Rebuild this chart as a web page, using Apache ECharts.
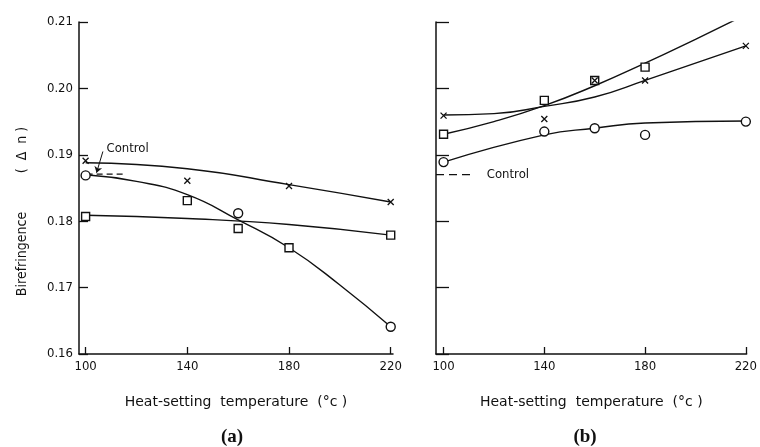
<!DOCTYPE html>
<html>
<head>
<meta charset="utf-8">
<script src="https://cdn.jsdelivr.net/npm/echarts@6/dist/echarts.min.js"></script>
<style>
  html, body { margin: 0; padding: 0; background: #fff; }
  #chart { width: 760px; height: 447px; }
</style>
</head>
<body>
<div id="chart"></div>
<script>
const ticksX = [100, 140, 180, 220]
const ticksY = [0.16, 0.17, 0.18, 0.19, 0.2, 0.21]

// panel (a) measured points
const crossXA = [100, 140, 180, 220]
const crossYA = [0.1891, 0.1861, 0.1853, 0.1829]
const circleXA = [100, 160, 220]
const circleYA = [0.1869, 0.1812, 0.1641]
const squareXA = [100, 140, 160, 180, 220]
const squareYA = [0.1807, 0.1831, 0.1789, 0.1760, 0.1779]

// panel (a) drawn curves
const crossFitXA = [100, 140, 180, 220]
const crossFitYA = [0.1888, 0.1879, 0.1855, 0.1829]
const circleFitXA = [100, 120, 140, 160, 180, 200, 220]
const circleFitYA = [0.1870, 0.1860, 0.1840, 0.1802, 0.1760, 0.1704, 0.1641]
const squareFitXA = [100, 140, 180, 220]
const squareFitYA = [0.1809, 0.1804, 0.1795, 0.1779]

// panel (b) measured points
const crossXB = [100, 140, 160, 180, 220]
const crossYB = [0.1959, 0.1954, 0.2012, 0.2012, 0.2064]
const circleXB = [100, 140, 160, 180, 220]
const circleYB = [0.1889, 0.1935, 0.1940, 0.1930, 0.1950]
const squareXB = [100, 140, 160, 180, 220]
const squareYB = [0.1931, 0.1982, 0.2012, 0.2032, 0.2111]

// panel (b) drawn curves
const crossFitXB = [100, 120, 140, 160, 180, 220]
const crossFitYB = [0.1960, 0.1962, 0.1973, 0.1987, 0.2012, 0.2064]
const circleFitXB = [100, 140, 160, 180, 220]
const circleFitYB = [0.1889, 0.1930, 0.1940, 0.1948, 0.1951]
const squareFitXB = [100, 120, 140, 160, 180, 200, 220]
const squareFitYB = [0.1931, 0.1950, 0.1974, 0.2004, 0.2038, 0.2074, 0.2111]

// control level and its annotation
const controlA = 0.1871
const controlXA = [100.4, 115.8]
const controlB = 0.1870
const controlXB = [97, 112.4]
const arrowXA = [106.8, 104.3]
const arrowYA = [0.1905, 0.1873]
const controlLabelA = [108.2, 0.1910]

const FONT = '"DejaVu Sans Condensed", "DejaVu Sans", sans-serif'
const WIDE = '"DejaVu Sans", sans-serif'
const SERIF = '"Liberation Serif", "DejaVu Serif", serif'
const INK = '#111'
const CROSS = 'path://M0,0L10,10M10,0L0,10'

const pairs = (xs, ys) => xs.map((x, i) => [x, ys[i]])

const chart = echarts.init(document.getElementById('chart'), null, { renderer: 'canvas' })

const xAxisFor = (gridIndex, min, max) => ({
  type: 'value',
  gridIndex,
  min,
  max,
  name: 'Heat-setting  temperature  (\u00b0c )',
  nameLocation: 'middle',
  nameGap: 41,
  nameTextStyle: { fontFamily: WIDE, fontSize: 14, color: INK },
  axisLine: { lineStyle: { color: INK, width: 1.5 } },
  axisTick: { inside: true, length: 7, customValues: ticksX, lineStyle: { color: INK, width: 1.3 } },
  axisLabel: { customValues: ticksX, margin: 6, fontFamily: FONT, fontSize: 13, color: INK },
  splitLine: { show: false },
})

const yAxisFor = (gridIndex, showLabels, tickLen) => ({
  type: 'value',
  gridIndex,
  min: 0.16,
  max: 0.21,
  axisLine: { show: true, lineStyle: { color: INK, width: 1.5 } },
  axisTick: { inside: true, length: tickLen, customValues: ticksY, lineStyle: { color: INK, width: 1.3 } },
  axisLabel: {
    show: showLabels,
    customValues: ticksY,
    margin: 6,
    fontFamily: FONT,
    fontSize: 13,
    color: INK,
    formatter: (v) => v.toFixed(2),
  },
  splitLine: { show: false },
})

const fit = (xi, xs, ys) => ({
  type: 'line',
  xAxisIndex: xi,
  yAxisIndex: xi,
  data: pairs(xs, ys),
  smooth: true,
  symbol: 'none',
  lineStyle: { color: INK, width: 1.4 },
  silent: true,
  z: 2,
})

const marks = (xi, xs, ys, symbol, size) => ({
  type: 'scatter',
  xAxisIndex: xi,
  yAxisIndex: xi,
  data: pairs(xs, ys),
  symbol,
  symbolSize: size,
  itemStyle: { color: '#fff', borderColor: INK, borderWidth: 1.4, opacity: 1 },
  z: 3,
})

const crossMarks = (xi, xs, ys) => ({
  type: 'scatter',
  xAxisIndex: xi,
  yAxisIndex: xi,
  data: pairs(xs, ys),
  symbol: CROSS,
  symbolSize: 6,
  itemStyle: { color: 'none', borderColor: INK, borderWidth: 1.3, opacity: 1 },
  z: 4,
})

const textEl = (x, y, text, font, size, extra) => ({
  type: 'text',
  x,
  y,
  ...extra,
  style: {
    text,
    fontFamily: font,
    fontSize: size,
    fill: INK,
    align: 'center',
    verticalAlign: 'middle',
    ...(extra && extra.style),
  },
})

const option = {
  animation: false,
  backgroundColor: '#fff',
  grid: [
    { left: 79, top: 22, width: 314, height: 332 },
    { left: 436, top: 22, width: 315, height: 332 },
  ],
  xAxis: [xAxisFor(0, 97.4, 220.9), xAxisFor(1, 97.0, 220.3)],
  yAxis: [yAxisFor(0, true, 9), yAxisFor(1, false, 13)],
  graphic: [
    textEl(22, 254, 'Birefringence', FONT, 14, { rotation: Math.PI / 2 }),
    textEl(22, 150, '(  \u0394  n )', FONT, 14, { rotation: Math.PI / 2 }),
    textEl(232, 437, '(a)', SERIF, 19, { style: { fontWeight: 'bold' } }),
    textEl(585, 437, '(b)', SERIF, 19, { style: { fontWeight: 'bold' } }),
  ],
  series: [
    fit(0, crossFitXA, crossFitYA),
    fit(0, circleFitXA, circleFitYA),
    fit(0, squareFitXA, squareFitYA),
    marks(0, circleXA, circleYA, 'circle', 9),
    marks(0, squareXA, squareYA, 'rect', 8),
    crossMarks(0, crossXA, crossYA),
    {
      type: 'line',
      xAxisIndex: 0,
      yAxisIndex: 0,
      data: controlXA.map((x) => [x, controlA]),
      symbol: 'none',
      lineStyle: { color: INK, width: 1.2, type: [6, 4] },
      markLine: {
        silent: true,
        symbol: ['none', 'arrow'],
        symbolSize: 6,
        lineStyle: { color: INK, width: 1, type: 'solid' },
        label: { show: false },
        data: [
          [
            { coord: [arrowXA[0], arrowYA[0]] },
            { coord: [arrowXA[1], arrowYA[1]] },
          ],
        ],
      },
      z: 2,
    },
    {
      type: 'scatter',
      xAxisIndex: 0,
      yAxisIndex: 0,
      data: [controlLabelA],
      symbolSize: 0,
      itemStyle: { opacity: 1 },
      label: {
        show: true,
        formatter: 'Control',
        position: 'right',
        distance: 0,
        fontFamily: FONT,
        fontSize: 13,
        color: INK,
      },
      z: 5,
    },

    fit(1, crossFitXB, crossFitYB),
    fit(1, circleFitXB, circleFitYB),
    fit(1, squareFitXB, squareFitYB),
    marks(1, circleXB, circleYB, 'circle', 9),
    marks(1, squareXB, squareYB, 'rect', 8),
    crossMarks(1, crossXB, crossYB),
    {
      type: 'line',
      xAxisIndex: 1,
      yAxisIndex: 1,
      data: controlXB.map((x) => [x, controlB]),
      symbol: 'none',
      lineStyle: { color: INK, width: 1.2, type: [8, 5] },
      endLabel: {
        show: true,
        formatter: 'Control',
        distance: 12,
        fontFamily: FONT,
        fontSize: 13,
        color: INK,
      },
      z: 2,
    },
  ],
}

chart.setOption(option)
</script>
</body>
</html>
